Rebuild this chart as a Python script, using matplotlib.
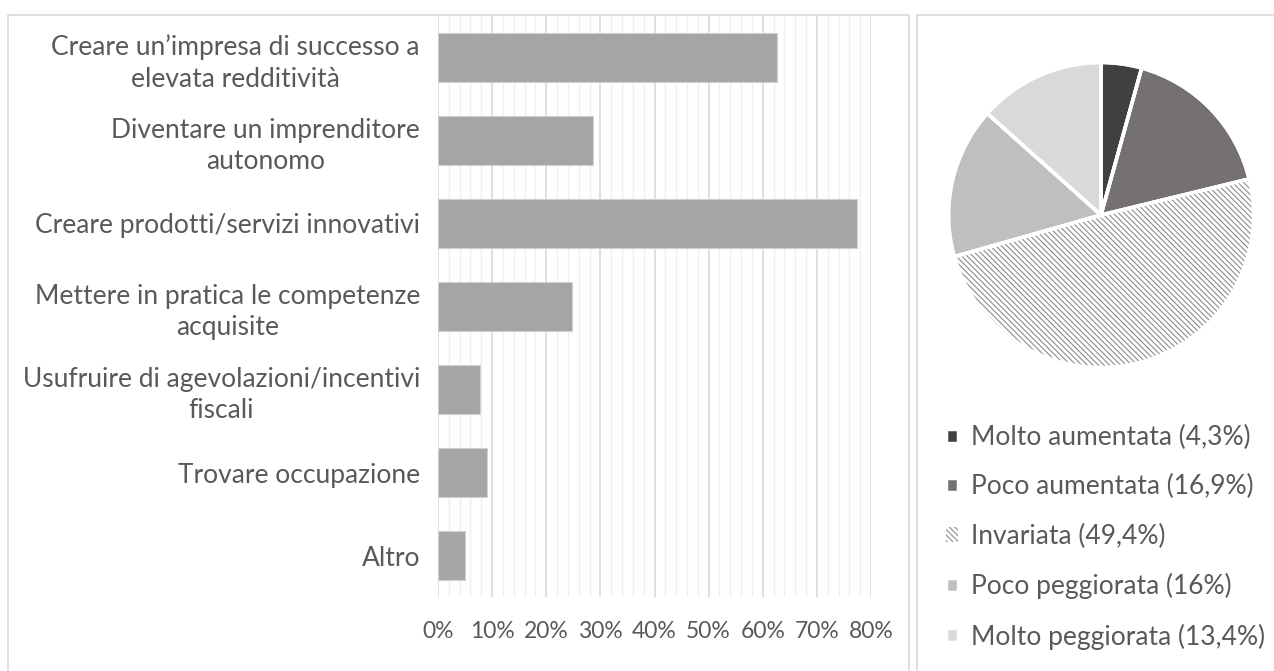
import matplotlib.pyplot as plt
from matplotlib.patches import Rectangle
from matplotlib.ticker import MultipleLocator, PercentFormatter

plt.rcParams['font.family'] = ['Lato', 'DejaVu Sans']
plt.rcParams['hatch.linewidth'] = 0.8

# dati barre
motivi = ["Creare un’impresa di successo a\nelevata redditività",
          "Diventare un imprenditore\nautonomo",
          "Creare prodotti/servizi innovativi",
          "Mettere in pratica le competenze\nacquisite",
          "Usufruire di agevolazioni/incentivi\nfiscali",
          "Trovare occupazione",
          "Altro"]
quote = [62.7, 28.6, 77.5, 24.7, 7.7, 9.0, 5.0]

# dati torta
voci = ["Molto aumentata (4,3%)", "Poco aumentata (16,9%)", "Invariata (49,4%)",
        "Poco peggiorata (16%)", "Molto peggiorata (13,4%)"]
valori = [4.3, 16.9, 49.4, 16.0, 13.4]
colori = ["#404040", "#767171", "white", "#bfbfbf", "#d9d9d9"]

W, H = 1274, 671
fig = plt.figure(figsize=(W / 100, H / 100), dpi=100)
grigio = "#595959"

# cornici
fig.patches.append(Rectangle((8 / W, -0.05), (909 - 8) / W, (H - 15) / H + 0.05,
                             transform=fig.transFigure, fill=False, ec="#d9d9d9", lw=1.2))
fig.patches.append(Rectangle((917 / W, -0.05), 0.5, (H - 15) / H + 0.05,
                             transform=fig.transFigure, fill=False, ec="#d9d9d9", lw=1.2))

# grafico a barre
ax = fig.add_axes([438 / W, (H - 597) / H, (871 - 438) / W, (597 - 16) / H])
y = list(range(len(motivi)))
ax.barh(y, quote, height=0.58, color="#a5a5a5", edgecolor="#d0d0d0", lw=0.8, zorder=3)
ax.set_xlim(0, 80)
ax.set_ylim(6.5, -0.5)
ax.xaxis.set_major_locator(MultipleLocator(10))
ax.xaxis.set_minor_locator(MultipleLocator(2))
ax.xaxis.set_major_formatter(PercentFormatter(decimals=0))
ax.grid(which="major", axis="x", color="#d9d9d9", lw=1.2, zorder=0)
ax.grid(which="minor", axis="x", color="#efefef", lw=1.0, zorder=0)
for s in ax.spines.values():
    s.set_visible(False)
ax.tick_params(axis="both", which="both", length=0)
ax.tick_params(axis="x", labelsize=16.5, labelcolor=grigio, pad=17)
ax.set_yticks(y)
ax.set_yticklabels(motivi, fontsize=19, color=grigio, multialignment="center",
                   linespacing=1.32)
ax.tick_params(axis="y", pad=13)

# grafico a torta
cx, cy, r = 1101, 215, 154
axp = fig.add_axes([(cx - r) / W, (H - cy - r) / H, 2 * r / W, 2 * r / H])
fette, _ = axp.pie(valori, colors=colori, startangle=90, counterclock=False,
                   wedgeprops=dict(edgecolor="white", linewidth=2.5))
# spicchio tratteggiato: il colore del tratteggio segue il bordo
fette[2].set_hatch("\\\\\\\\\\\\")
fette[2].set_edgecolor("#8c8c8c")
fette[2].set_linewidth(0)
# bordi bianchi sopra
bordi, _ = axp.pie(valori, startangle=90, counterclock=False,
                   wedgeprops=dict(fill=False, edgecolor="white", linewidth=2.5))
axp.set_xlim(-1.01, 1.01)
axp.set_ylim(-1.01, 1.01)
axp.set_aspect("equal")

leg = fig.legend(fette, voci, loc="upper left", bbox_to_anchor=(946 / W, (H - 425) / H),
                 frameon=False, fontsize=19, labelcolor=grigio, handlelength=0.45,
                 handleheight=0.45, handletextpad=0.5, labelspacing=0.92, borderaxespad=0,
                 borderpad=0)

fig.savefig("out.png", dpi=100)
